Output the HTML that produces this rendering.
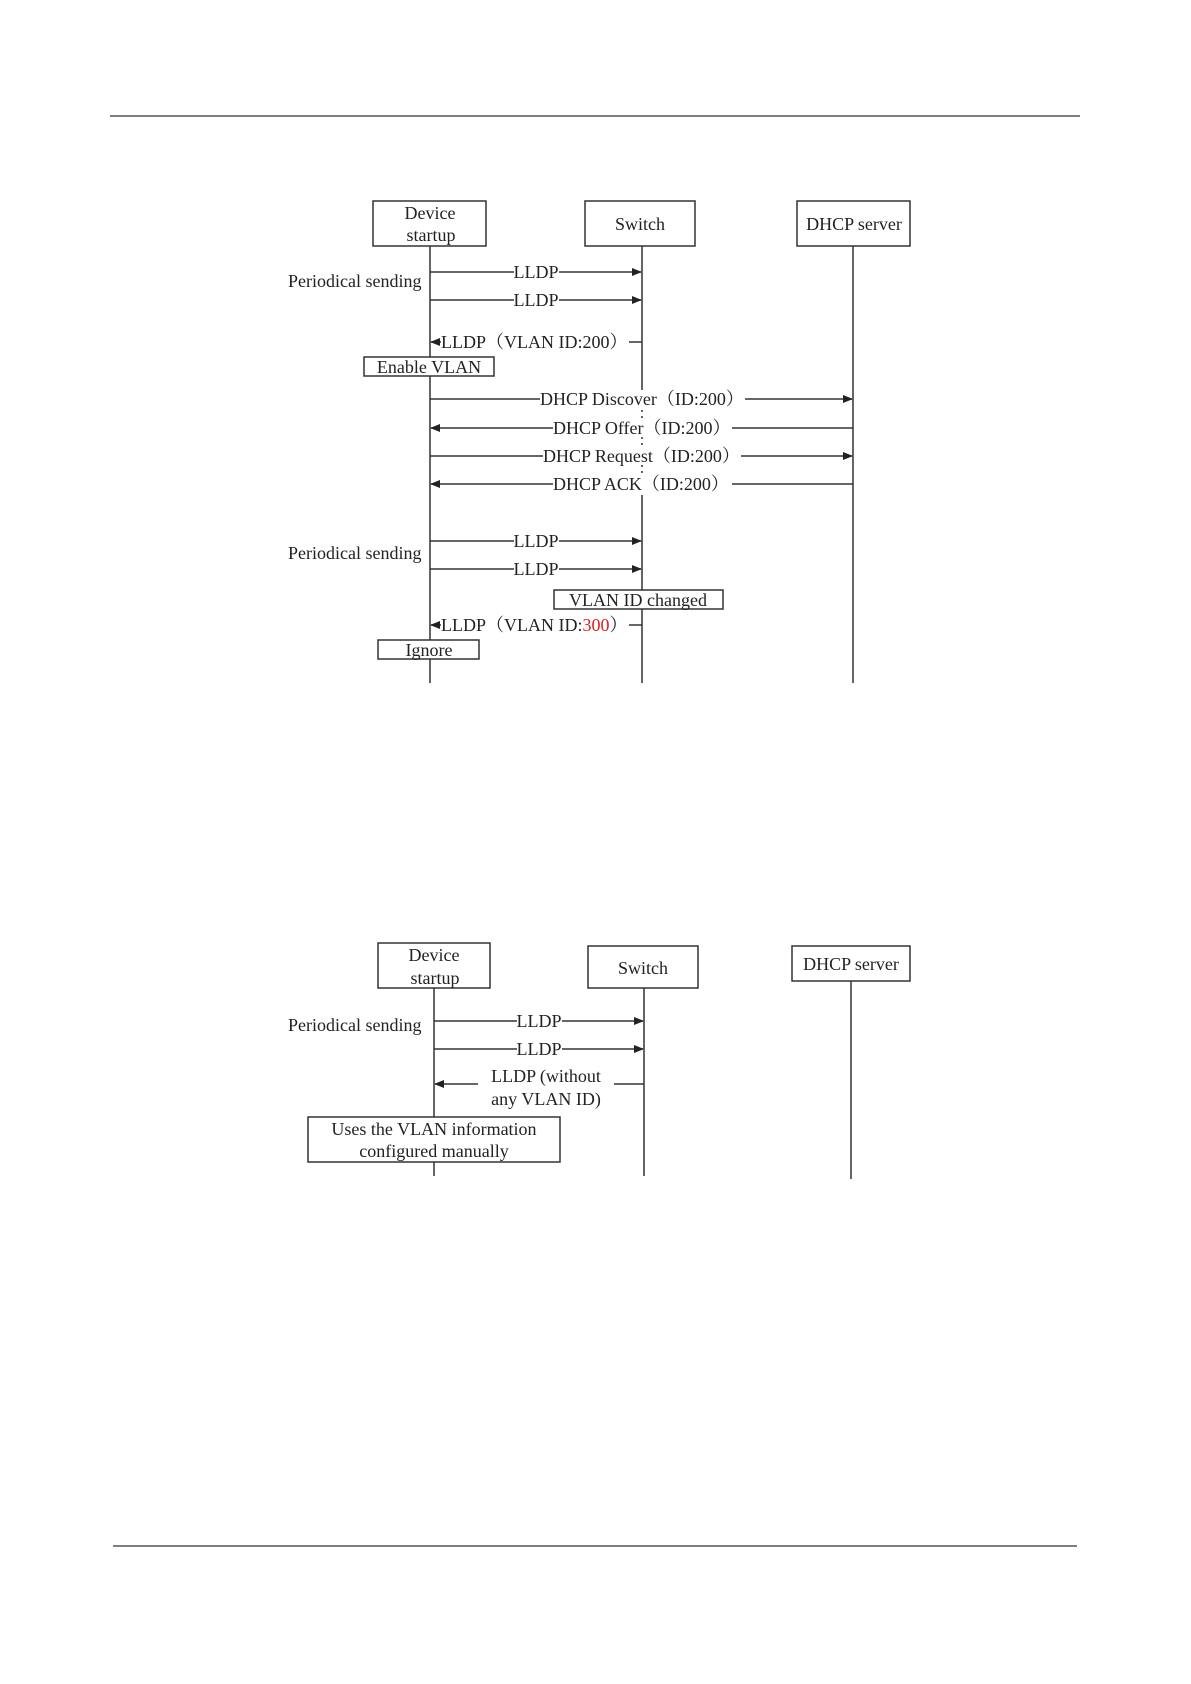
<!DOCTYPE html>
<html><head><meta charset="utf-8"><style>
html,body{margin:0;padding:0;background:#fff}
svg{display:block}
text{font-family:"Liberation Serif","Noto Serif CJK SC",serif;font-size:18px;fill:#222}
</style></head><body>
<svg width="1191" height="1684" viewBox="0 0 1191 1684" xmlns="http://www.w3.org/2000/svg">
<defs><marker id="a" markerWidth="10" markerHeight="8" refX="9" refY="4" orient="auto" markerUnits="userSpaceOnUse"><path d="M0,0 L10,4 L0,8 z" fill="#222"/></marker></defs>
<line x1="110" y1="116" x2="1080" y2="116" stroke="#333" stroke-width="1.2"/>
<line x1="113" y1="1546" x2="1077" y2="1546" stroke="#333" stroke-width="1.2"/>
<g stroke="#333" stroke-width="1.5" fill="none">
<!-- diagram 1 -->
<rect x="373" y="201" width="113" height="45" fill="#fff"/>
<rect x="585" y="201" width="110" height="45" fill="#fff"/>
<rect x="797" y="201" width="113" height="45" fill="#fff"/>
<line x1="430" y1="246" x2="430" y2="683"/>
<line x1="642" y1="246" x2="642" y2="390"/>
<line x1="642" y1="495" x2="642" y2="683"/>
<line x1="853" y1="246" x2="853" y2="683"/>
<line x1="430" y1="272" x2="514" y2="272"/><line x1="559" y1="272" x2="641" y2="272" marker-end="url(#a)"/>
<line x1="430" y1="300" x2="514" y2="300"/><line x1="559" y1="300" x2="641" y2="300" marker-end="url(#a)"/>
<line x1="629" y1="342" x2="642" y2="342"/><line x1="441" y1="342" x2="431" y2="342" marker-end="url(#a)"/>
<line x1="430" y1="399" x2="540" y2="399"/><line x1="745" y1="399" x2="852" y2="399" marker-end="url(#a)"/>
<line x1="853" y1="428" x2="732" y2="428"/><line x1="553" y1="428" x2="431" y2="428" marker-end="url(#a)"/>
<line x1="430" y1="456" x2="543" y2="456"/><line x1="741" y1="456" x2="852" y2="456" marker-end="url(#a)"/>
<line x1="853" y1="484" x2="732" y2="484"/><line x1="553" y1="484" x2="431" y2="484" marker-end="url(#a)"/>
<line x1="642" y1="410" x2="642" y2="418" stroke-dasharray="2 4"/>
<line x1="642" y1="437" x2="642" y2="447" stroke-dasharray="2 4"/>
<line x1="642" y1="465" x2="642" y2="475" stroke-dasharray="2 4"/>
<line x1="430" y1="541" x2="514" y2="541"/><line x1="559" y1="541" x2="641" y2="541" marker-end="url(#a)"/>
<line x1="430" y1="569" x2="514" y2="569"/><line x1="559" y1="569" x2="641" y2="569" marker-end="url(#a)"/>
<line x1="629" y1="625" x2="642" y2="625"/><line x1="441" y1="625" x2="431" y2="625" marker-end="url(#a)"/>
<rect x="364" y="357" width="130" height="19" fill="#fff"/>
<rect x="554" y="590" width="169" height="19" fill="#fff"/>
<rect x="378" y="640" width="101" height="19" fill="#fff"/>
<!-- diagram 2 -->
<rect x="378" y="943" width="112" height="45" fill="#fff"/>
<rect x="588" y="946" width="110" height="42" fill="#fff"/>
<rect x="792" y="946" width="118" height="35" fill="#fff"/>
<line x1="434" y1="988" x2="434" y2="1176"/>
<line x1="644" y1="988" x2="644" y2="1176"/>
<line x1="851" y1="981" x2="851" y2="1179"/>
<line x1="434" y1="1021" x2="517" y2="1021"/><line x1="562" y1="1021" x2="643" y2="1021" marker-end="url(#a)"/>
<line x1="434" y1="1049" x2="517" y2="1049"/><line x1="562" y1="1049" x2="643" y2="1049" marker-end="url(#a)"/>
<line x1="614" y1="1084" x2="644" y2="1084"/><line x1="478" y1="1084" x2="435" y2="1084" marker-end="url(#a)"/>
<rect x="308" y="1117" width="252" height="45" fill="#fff"/>
</g>
<g text-anchor="middle">
<text x="430" y="219">Device</text><text x="431" y="241">startup</text>
<text x="640" y="230">Switch</text>
<text x="854" y="230">DHCP server</text>
<text x="536" y="278">LLDP</text>
<text x="536" y="306">LLDP</text>
<text x="536" y="547">LLDP</text>
<text x="536" y="575">LLDP</text>
<text x="429" y="373">Enable VLAN</text>
<text x="638" y="606">VLAN ID changed</text>
<text x="429" y="656">Ignore</text>
<text x="434" y="961">Device</text><text x="435" y="984">startup</text>
<text x="643" y="974">Switch</text>
<text x="851" y="970">DHCP server</text>
<text x="539" y="1027">LLDP</text>
<text x="539" y="1055">LLDP</text>
<text x="546" y="1082">LLDP (without</text>
<text x="546" y="1105">any VLAN ID)</text>
<text x="434" y="1135">Uses the VLAN information</text>
<text x="434" y="1157">configured manually</text>
</g>
<text x="288" y="287">Periodical sending</text>
<text x="288" y="559">Periodical sending</text>
<text x="288" y="1031">Periodical sending</text>
<text x="441" y="348">LLDP（VLAN ID:200）</text>
<text x="441" y="631">LLDP（VLAN ID:<tspan fill="#e02020">300</tspan>）</text>
<text x="540" y="405">DHCP Discover（ID:200）</text>
<text x="553" y="434" fill="#444">DHCP Offer（ID:200）</text>
<text x="543" y="462">DHCP Request（ID:200）</text>
<text x="553" y="490">DHCP ACK（ID:200）</text>
</svg>
</body></html>
